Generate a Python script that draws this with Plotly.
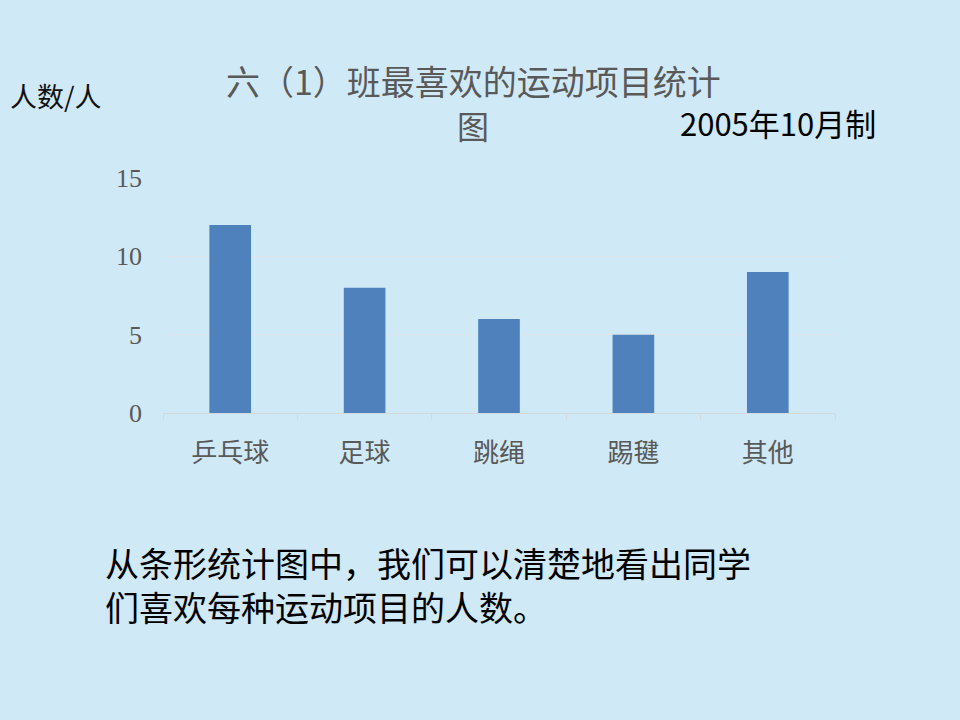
import plotly.graph_objects as go

categories = ["乒乓球", "足球", "跳绳", "踢毽", "其他"]
counts = [12, 8, 6, 5, 9]
y_ticks = [0, 5, 10, 15]

W, H = 960, 720
L, R, T, B = 163, 835, 178, 413

def px(x):
    return (x - L) / (R - L)

def py(y):
    return (B - y) / (B - T)

fig = go.Figure(go.Bar(
    x=categories, y=counts,
    marker=dict(color="#4f81bd", line=dict(width=0)),
    width=0.31,
))

bg = "#d0e9f7"
grey = "#595959"
fig.update_layout(
    width=W, height=H,
    margin=dict(l=L, r=W - R, t=T, b=H - B, pad=0),
    paper_bgcolor=bg, plot_bgcolor=bg,
    showlegend=False,
    xaxis=dict(
        showgrid=False, showline=True, linecolor="#d4d9dd", linewidth=1,
        ticks="outside", tickson="boundaries", ticklen=6, tickcolor="#d4d9dd",
        tickfont=dict(family="Noto Sans CJK SC", size=26, color=grey),
        ticklabelstandoff=17,
    ),
    yaxis=dict(
        range=[0, 15], tickvals=y_ticks, showgrid=True, gridcolor="#dfe5ea",
        gridwidth=1, zeroline=False, showline=False,
        tickfont=dict(family="Liberation Serif", size=26, color=grey),
        ticklabelstandoff=20,
    ),
)

anns = [
    dict(text="人数/人", x=px(8), y=py(95), xanchor="left", yanchor="middle",
         font=dict(family="Noto Sans CJK SC", size=27, color="#111111")),
    dict(text="六（1）班最喜欢的运动项目统计", x=px(473), y=py(80), xanchor="center", yanchor="middle",
         font=dict(family="Noto Sans CJK SC", size=34, color=grey)),
    dict(text="图", x=px(473), y=py(125), xanchor="center", yanchor="middle",
         font=dict(family="Noto Sans CJK SC", size=32, color=grey)),
    dict(text="2005年10月制", x=px(678), y=py(122), xanchor="left", yanchor="middle",
         font=dict(family="Noto Sans CJK SC", size=31, color="#000000")),
    dict(text="从条形统计图中，我们可以清楚地看出同学<br>们喜欢每种运动项目的人数。", x=px(103), y=py(584),
         xanchor="left", yanchor="middle", align="left",
         font=dict(family="Noto Sans CJK SC", size=34, color="#000000")),
]
for a in anns:
    a.update(xref="paper", yref="paper", showarrow=False)
fig.update_layout(annotations=anns)

fig.write_html("out.html")
